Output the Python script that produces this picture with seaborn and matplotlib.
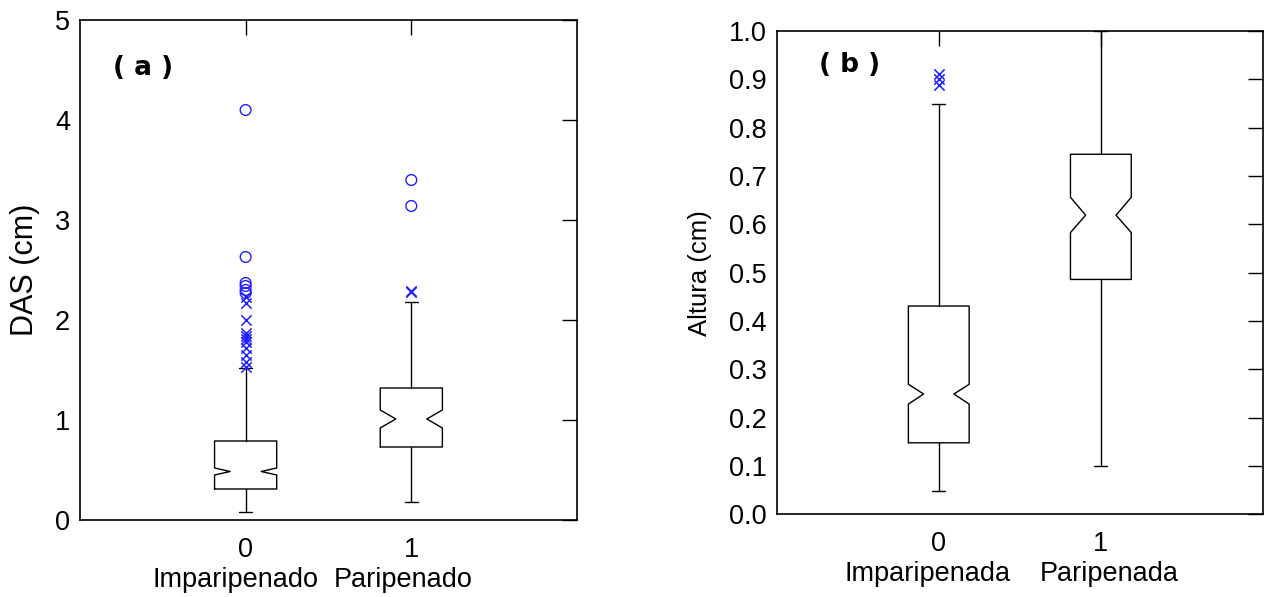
import matplotlib
matplotlib.use("Agg")
import matplotlib.pyplot as plt
import pandas as pd
import seaborn as sns


# -------------------------------
# DATA
# -------------------------------
groups = [0, 1]
group_ticklabels = ["0", "1"]
das_names = ["Imparipenado", "Paripenado"]
alt_names = ["Imparipenada", "Paripenada"]

# panel (a) - DAS (cm)
das_q1 = [0.31, 0.73]
das_med = [0.485, 1.01]
das_q3 = [0.79, 1.32]
das_whislo = [0.08, 0.18]
das_whishi = [1.52, 2.18]
das_cilo = [0.45, 0.92]
das_cihi = [0.52, 1.10]
das_far_g0 = [4.10, 2.63, 2.37, 2.34, 2.30, 2.27]
das_far_g1 = [3.40, 3.14]
das_mild_g0 = [2.23, 2.17, 2.00, 1.87, 1.84, 1.81, 1.78, 1.72, 1.65, 1.58, 1.53]
das_mild_g1 = [2.29, 2.28]

# panel (b) - Altura (cm)
alt_q1 = [0.148, 0.486]
alt_med = [0.249, 0.619]
alt_q3 = [0.431, 0.745]
alt_whislo = [0.049, 0.10]
alt_whishi = [0.85, 1.0]
alt_cilo = [0.228, 0.583]
alt_cihi = [0.269, 0.656]
alt_mild_g0 = [0.912, 0.90, 0.888]


# -------------------------------
# HELPERS
# -------------------------------
def box_stats(q1, med, q3, lo, hi, cilo, cihi):
    stats = []
    for i in range(len(q1)):
        stats.append({
            "q1": q1[i], "med": med[i], "q3": q3[i],
            "whislo": lo[i], "whishi": hi[i],
            "cilo": cilo[i], "cihi": cihi[i], "fliers": [],
        })
    return stats


def outlier_frame(per_group):
    rows = []
    for g, vals in per_group.items():
        for v in vals:
            rows.append({"group": g, "value": v})
    return pd.DataFrame(rows, columns=["group", "value"])


def draw_panel(ax, stats, far, mild, names, name_dx, yticks, yticklabels):
    box_w = 0.375
    parts = ax.bxp(stats, positions=groups, widths=box_w, capwidths=0.13,
                   shownotches=True, showfliers=False, patch_artist=False,
                   boxprops=dict(color="black", linewidth=1.0),
                   whiskerprops=dict(color="black", linewidth=1.0),
                   capprops=dict(color="black", linewidth=1.0),
                   medianprops=dict(linewidth=0))
    # whisker caps are shorter than the notch depth
    for cap in parts["caps"]:
        xs = cap.get_xdata()
        c = (xs[0] + xs[1]) / 2
        cap.set_xdata([c - 0.04, c + 0.04])

    if len(far):
        sns.scatterplot(data=far, x="group", y="value", ax=ax, marker="o",
                        s=60, facecolor="none", edgecolor="#2020ff",
                        linewidth=1.0, zorder=5)
    if len(mild):
        sns.scatterplot(data=mild, x="group", y="value", ax=ax, marker="x",
                        s=55, color="#2020ff", linewidth=1.1, zorder=5)

    ax.set_xlim(-1, 2)
    ax.set_xticks(groups)
    ax.set_xticklabels(group_ticklabels)
    ax.set_yticks(yticks)
    ax.set_yticklabels(yticklabels)
    ax.set_xlabel("")
    ax.tick_params(axis="both", direction="in", top=True, right=True,
                   length=11, width=1.0, labelsize=19.5, colors="black")
    ax.tick_params(axis="x", pad=12)
    ax.tick_params(axis="y", pad=7)
    for s in ax.spines.values():
        s.set_linewidth(1.2)
        s.set_color("black")

    # group names under the 0 / 1 tick labels
    for g, name, dx in zip(groups, names, name_dx):
        ax.annotate(name, xy=(g, 0), xycoords=("data", "axes fraction"),
                    xytext=(dx, -43), textcoords="offset points",
                    ha="center", va="center", fontsize=19.5, color="black")


# -------------------------------
# PLOT
# -------------------------------
sns.set_style("white")
plt.rcParams["font.family"] = ["Liberation Sans", "DejaVu Sans"]
plt.rcParams["text.color"] = "black"
plt.rcParams["axes.labelcolor"] = "black"

fig = plt.figure(figsize=(12.67, 5.97), dpi=100)
ax1 = fig.add_axes([0.0631, 0.129, 0.3923, 0.8375])
ax2 = fig.add_axes([0.6130, 0.1385, 0.3838, 0.8095])

draw_panel(ax1,
           box_stats(das_q1, das_med, das_q3, das_whislo, das_whishi, das_cilo, das_cihi),
           outlier_frame({0: das_far_g0, 1: das_far_g1}),
           outlier_frame({0: das_mild_g0, 1: das_mild_g1}),
           das_names, [-7, -6], [0, 1, 2, 3, 4, 5], ["0", "1", "2", "3", "4", "5"])
ax1.set_ylim(0, 5)
ax1.set_ylabel("DAS (cm)", fontsize=22, labelpad=11)
ax1.text(0.066, 0.904, "( a )", transform=ax1.transAxes, fontsize=19,
         fontweight="bold", family="DejaVu Sans", va="center")

alt_yticks = [i / 10 for i in range(11)]
draw_panel(ax2,
           box_stats(alt_q1, alt_med, alt_q3, alt_whislo, alt_whishi, alt_cilo, alt_cihi),
           outlier_frame({}),
           outlier_frame({0: alt_mild_g0}),
           alt_names, [-8, 6], alt_yticks, ["%.1f" % v for v in alt_yticks])
ax2.set_ylim(0, 1.0)
ax2.set_ylabel("Altura (cm)", fontsize=18.5, labelpad=12)
ax2.text(0.087, 0.93, "( b )", transform=ax2.transAxes, fontsize=19,
         fontweight="bold", family="DejaVu Sans", va="center")

fig.savefig("out.png", dpi=100)
